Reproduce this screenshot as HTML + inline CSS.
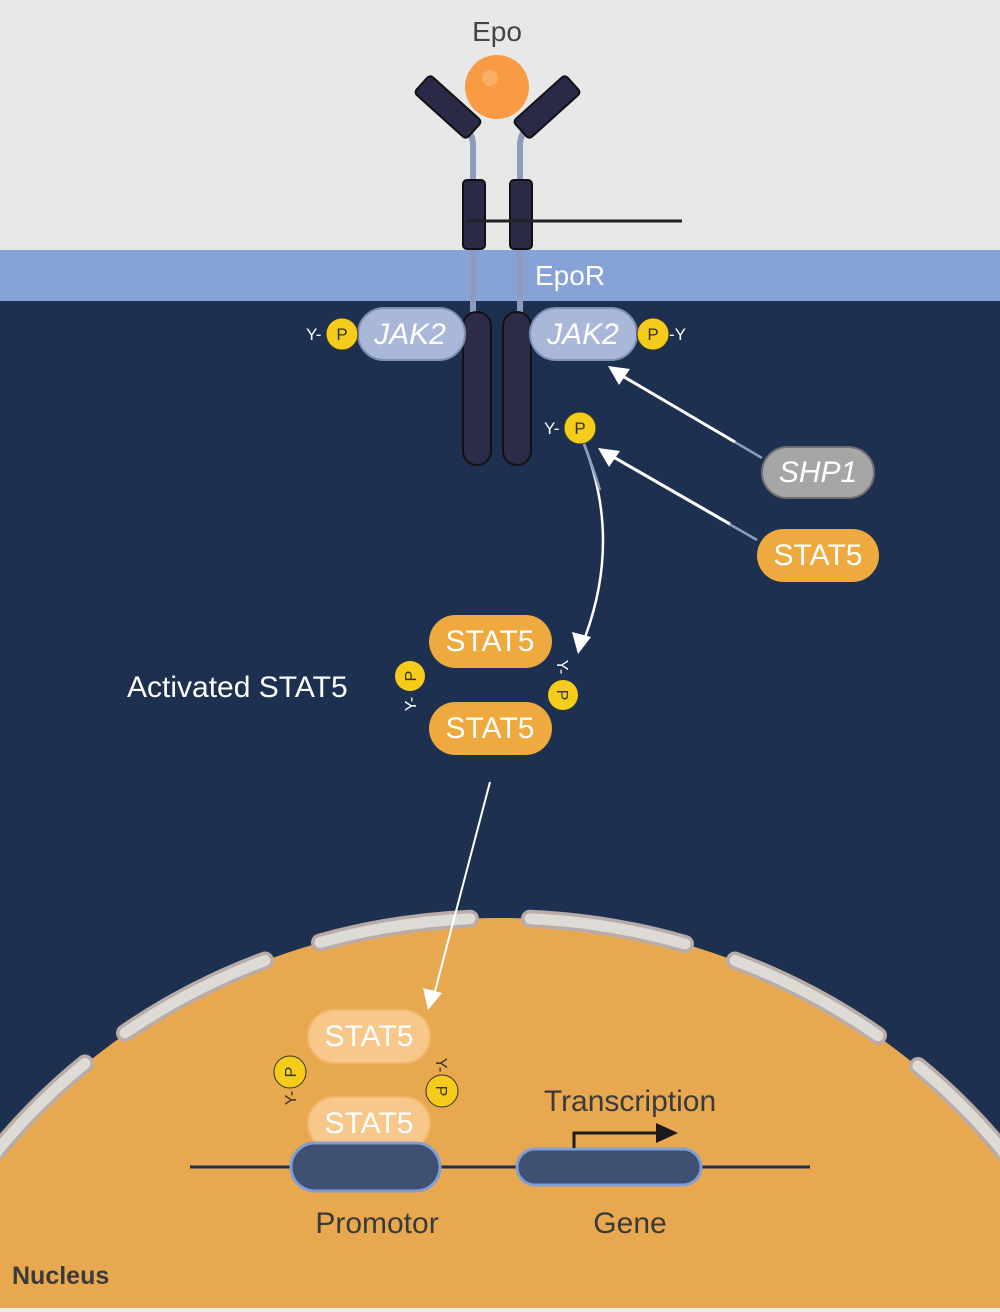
<!DOCTYPE html>
<html><head><meta charset="utf-8"><style>html,body{margin:0;padding:0;background:#1e3050;overflow:hidden;width:1000px;height:1312px}svg{display:block}text{font-family:"Liberation Sans",sans-serif}</style></head>
<body>
<svg width="1000" height="1312" viewBox="0 0 1000 1312" xmlns="http://www.w3.org/2000/svg">
<rect x="0" y="0" width="1000" height="1312" fill="#1e3050"/>
<rect x="0" y="0" width="1000" height="250" fill="#e8e8e8"/>
<rect x="0" y="250" width="1000" height="51" fill="#86a2d6"/>
<!-- stems -->
<path d="M473,312 L473,145 Q473,135 466,128 M520,312 L520,145 Q520,135 527,128" stroke="#8c9cc0" stroke-width="6" fill="none"/>
<rect x="413" y="95" width="70" height="24" rx="4" fill="#2a2a48" stroke="#111" stroke-width="2" transform="rotate(42 448 107)"/>
<rect x="512" y="95" width="70" height="24" rx="4" fill="#2a2a48" stroke="#111" stroke-width="2" transform="rotate(-42 547 107)"/>
<circle cx="497" cy="87" r="32" fill="#f99b45"/>
<circle cx="490" cy="78" r="8" fill="#fbb673" opacity=".7"/>
<rect x="463" y="180" width="22" height="69" rx="4" fill="#2a2a48" stroke="#111" stroke-width="2"/>
<rect x="510" y="180" width="22" height="69" rx="4" fill="#2a2a48" stroke="#111" stroke-width="2"/>
<line x1="466" y1="221" x2="682" y2="221" stroke="#222" stroke-width="3"/>
<text x="497" y="41" font-size="28" fill="#444" text-anchor="middle">Epo</text>
<text x="535" y="285" font-size="28" fill="#fff">EpoR</text>
<!-- intracellular bars -->
<rect x="463" y="312" width="28" height="153" rx="14" fill="#2c2c48" stroke="#111" stroke-width="2"/>
<rect x="503" y="312" width="28" height="153" rx="14" fill="#2c2c48" stroke="#111" stroke-width="2"/>
<rect x="358" y="308" width="107" height="52" rx="26" fill="#a9b8d9" stroke="#7d8fb5" stroke-width="2"/>
<rect x="530" y="308" width="107" height="52" rx="26" fill="#a9b8d9" stroke="#7d8fb5" stroke-width="2"/>
<text x="410" y="344" font-size="30" font-style="italic" fill="#fff" text-anchor="middle">JAK2</text>
<text x="583" y="344" font-size="30" font-style="italic" fill="#fff" text-anchor="middle">JAK2</text>
<g font-size="17">
<circle cx="342" cy="334" r="16" fill="#f5cc1a" stroke="#333" stroke-width="1"/><text x="342" y="340" text-anchor="middle" fill="#333">P</text>
<text x="306" y="340" fill="#fff">Y-</text>
<circle cx="653" cy="334" r="16" fill="#f5cc1a" stroke="#333" stroke-width="1"/><text x="653" y="340" text-anchor="middle" fill="#333">P</text>
<text x="669" y="340" fill="#fff">-Y</text>
<circle cx="580" cy="428" r="16" fill="#f5cc1a" stroke="#333" stroke-width="1"/><text x="580" y="434" text-anchor="middle" fill="#333">P</text>
<text x="544" y="434" fill="#fff">Y-</text>
</g>
<!-- arrows -->
<line x1="762" y1="458" x2="614" y2="371" stroke="#8c9cc0" stroke-width="2.5"/>
<line x1="735" y1="442" x2="614" y2="371" stroke="#fff" stroke-width="3"/>
<path d="M608,366 l22,3 l-11,16z" fill="#fff"/>
<line x1="757" y1="540" x2="604" y2="452" stroke="#8c9cc0" stroke-width="2.5"/>
<line x1="730" y1="524" x2="610" y2="455" stroke="#fff" stroke-width="3"/>
<path d="M598,448 l22,3 l-11,16z" fill="#fff"/>
<path d="M584,444 Q622,540 584,640" stroke="#fff" stroke-width="2.5" fill="none"/>
<path d="M584,444 Q594,470 600,490" stroke="#8c9cc0" stroke-width="2.5" fill="none"/>
<path d="M578,654 l-6,-22 l19,5z" fill="#fff"/>
<!-- SHP1, STAT5 -->
<rect x="762" y="447" width="112" height="51" rx="25.5" fill="#a6a6a6" stroke="#6f6f6f" stroke-width="2"/>
<text x="818" y="482" font-size="30" font-style="italic" fill="#fff" text-anchor="middle">SHP1</text>
<rect x="757" y="529" width="122" height="53" rx="26.5" fill="#eeaa3e"/>
<text x="818" y="565" font-size="30" fill="#fff" text-anchor="middle">STAT5</text>
<!-- activated -->
<rect x="429" y="615" width="123" height="53" rx="26.5" fill="#eeaa3e"/>
<text x="490" y="651" font-size="30" fill="#fff" text-anchor="middle">STAT5</text>
<rect x="429" y="702" width="123" height="53" rx="26.5" fill="#eeaa3e"/>
<text x="490" y="738" font-size="30" fill="#fff" text-anchor="middle">STAT5</text>
<text x="127" y="697" font-size="30" fill="#fff">Activated STAT5</text>
<g font-size="16">
<circle cx="410" cy="676" r="15" fill="#f5cc1a"/>
<text transform="translate(416,676) rotate(-90)" text-anchor="middle" fill="#333">P</text>
<text transform="translate(416,704) rotate(-90)" text-anchor="middle" fill="#fff">Y-</text>
<circle cx="563" cy="695" r="15" fill="#f5cc1a"/>
<text transform="translate(557,695) rotate(90)" text-anchor="middle" fill="#333">P</text>
<text transform="translate(557,667) rotate(90)" text-anchor="middle" fill="#fff">Y-</text>
</g>
<!-- nucleus -->
<ellipse cx="500" cy="1510" rx="630" ry="592" fill="#e8a84f"/>
<g fill="none" stroke-linecap="round">
<path d="M320,942.5 A632,592 0 0 1 470,918.7 M530,918.7 A632,592 0 0 1 685,944 M125,1033 A632,592 0 0 1 265,960.5 M735,960.5 A632,592 0 0 1 878,1035.6 M-10,1160 A632,592 0 0 1 85,1063.5 M918,1066 A632,592 0 0 1 1010,1160" stroke="#b9aca6" stroke-width="18"/>
<path d="M320,942.5 A632,592 0 0 1 470,918.7 M530,918.7 A632,592 0 0 1 685,944 M125,1033 A632,592 0 0 1 265,960.5 M735,960.5 A632,592 0 0 1 878,1035.6 M-10,1160 A632,592 0 0 1 85,1063.5 M918,1066 A632,592 0 0 1 1010,1160" stroke="#dedad6" stroke-width="11"/>
</g>
<line x1="490" y1="782" x2="434" y2="995" stroke="#fff" stroke-width="2"/>
<path d="M428,1010 l-5,-22 l19,5z" fill="#fff"/>
<rect x="0" y="1308" width="1000" height="4" fill="#f0ece8"/>
<line x1="190" y1="1167" x2="810" y2="1167" stroke="#1e3050" stroke-width="3"/>
<rect x="308" y="1010" width="122" height="53" rx="26.5" fill="#f8c88a" stroke="#f2b870" stroke-width="2"/>
<text x="369" y="1046" font-size="30" fill="#fff" text-anchor="middle">STAT5</text>
<rect x="308" y="1097" width="122" height="53" rx="26.5" fill="#f8c88a" stroke="#f2b870" stroke-width="2"/>
<text x="369" y="1133" font-size="30" fill="#fff" text-anchor="middle">STAT5</text>
<rect x="291" y="1143" width="149" height="48" rx="24" fill="#3f5073" stroke="#7f9ed3" stroke-width="3"/>
<rect x="517" y="1149" width="184" height="36" rx="18" fill="#3f5073" stroke="#7f9ed3" stroke-width="3"/>
<path d="M574,1148 L574,1133 L660,1133" stroke="#1a1a1a" stroke-width="3" fill="none"/>
<path d="M656,1123 L678,1133 L656,1143z" fill="#1a1a1a"/>
<g font-size="16">
<circle cx="290" cy="1072" r="16" fill="#f5cc1a" stroke="#333" stroke-width="1"/>
<text transform="translate(296,1072) rotate(-90)" text-anchor="middle" fill="#333">P</text>
<text transform="translate(296,1098) rotate(-90)" text-anchor="middle" fill="#333">Y-</text>
<circle cx="442" cy="1091" r="16" fill="#f5cc1a" stroke="#333" stroke-width="1"/>
<text transform="translate(436,1091) rotate(90)" text-anchor="middle" fill="#333">P</text>
<text transform="translate(436,1065) rotate(90)" text-anchor="middle" fill="#333">Y-</text>
</g>
<text x="630" y="1111" font-size="30" fill="#3a3a3a" text-anchor="middle">Transcription</text>
<text x="377" y="1233" font-size="30" fill="#3a3a3a" text-anchor="middle">Promotor</text>
<text x="630" y="1233" font-size="30" fill="#3a3a3a" text-anchor="middle">Gene</text>
<text x="12" y="1284" font-size="25" font-weight="bold" fill="#3a3a3a">Nucleus</text>
</svg>
</body></html>
